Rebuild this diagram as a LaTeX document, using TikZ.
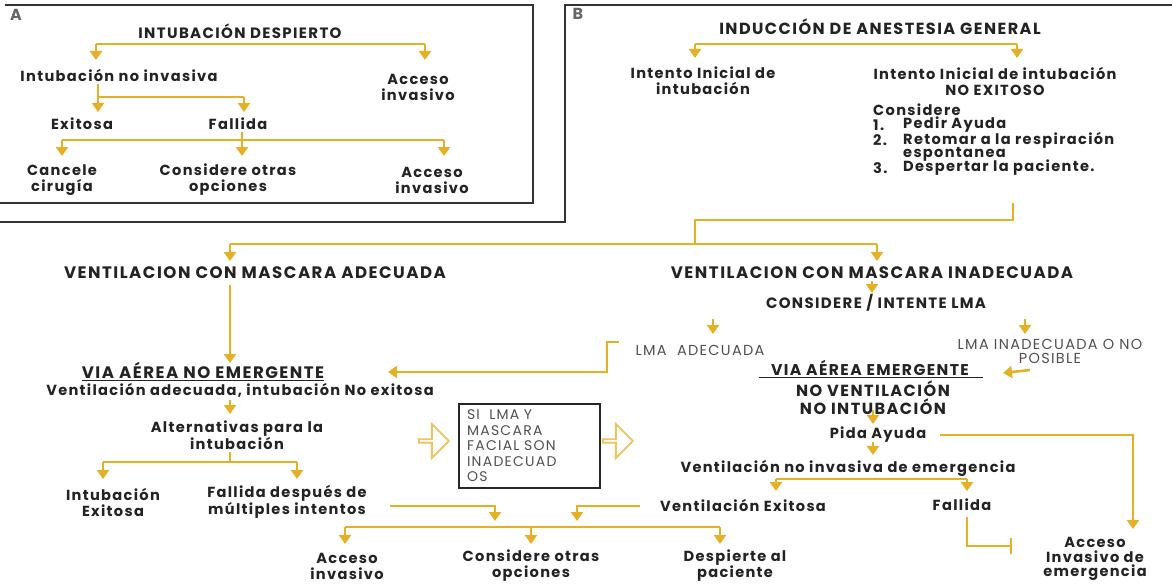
\documentclass[tikz,border=0pt]{standalone}
\usepackage{fontspec}
\setmainfont{Poppins}[LetterSpace=9]
\usetikzlibrary{arrows.meta,calc,shapes.arrows}
\definecolor{gold}{RGB}{230,176,36}
\definecolor{ink}{RGB}{35,35,35}
\definecolor{soft}{RGB}{80,80,80}
\tikzset{
  t/.style={font=\bfseries\fontsize{14.6}{16}\selectfont, text=ink, align=center, inner sep=0pt},
  T/.style={font=\bfseries\fontsize{16.6}{18}\selectfont, text=ink, align=center, inner sep=0pt},
  tl/.style={font=\fontsize{14.5}{14}\selectfont, text=soft, align=center, inner sep=0pt},
  con/.style={draw=gold, line width=2.6pt},
  arr/.style={draw=gold, line width=2.6pt, -{Triangle[width=12pt,length=9pt]}},
  frame/.style={draw=black!80, line width=2.4pt},
  blk/.style={single arrow, draw=gold!75, line width=1.8pt, fill=white, minimum width=34pt, minimum height=30pt, single arrow head extend=8pt, inner sep=0pt},
  ul/.style={draw=ink, line width=1pt}
}
\begin{document}
\begin{tikzpicture}[x=1pt,y=-1pt]
\useasboundingbox (0,0) rectangle (1172,586);
\fill[white] (0,0) rectangle (1172,586);
% frames
\coordinate (fa1) at (5,5); \coordinate (fa2) at (533,5); \coordinate (fa3) at (533,203); \coordinate (fa4) at (0,203);
\draw[frame] (fa1) -- (fa2) -- (fa3) -- (fa4);
\coordinate (fb1) at (0,222); \coordinate (fb2) at (565,222); \coordinate (fb3) at (565,5); \coordinate (fb4) at (1172,5);
\draw[frame] (fb1) -- (fb2) -- (fb3) -- (fb4);

% ---------- Panel A ----------
\node[font=\bfseries\fontsize{16}{16}\selectfont, text=black!60, inner sep=0pt] (labA) at (16,15) {A};
\node[T, font=\bfseries\fontsize{15}{18}\selectfont] (despierto) at (240,31) {INTUBACIÓN DESPIERTO};
\node[t] (noinv) at (119,75) {Intubación no invasiva};
\node[t] (accA1) at (418,87) {Acceso\\invasivo};
\node[t] (exitA) at (82,124) {Exitosa};
\node[t] (fallA) at (238,124) {Fallida};
\node[t] (cancel) at (62,180) {Cancele\\cirugía};
\node[t] (otrasA) at (228,180) {Considere otras\\opciones};
\node[t] (accA2) at (432,180) {Acceso\\invasivo};

\coordinate (a1) at (96,44); \coordinate (a2) at (425,44);
\coordinate (a1e) at (96,60); \coordinate (a2e) at (425,60);
\draw[con] (a1) -- (a2);
\draw[arr] (a1) -- (a1e);
\draw[arr] (a2) -- (a2e);

\coordinate (b0) at (98,84); \coordinate (b1) at (98,97); \coordinate (b2) at (244,97);
\coordinate (b1e) at (98,112); \coordinate (b2e) at (244,112);
\draw[con] (b0) -- (b1) -- (b2);
\draw[arr] (b1) -- (b1e);
\draw[arr] (b2) -- (b2e);

\coordinate (c0) at (242,132); \coordinate (c1) at (62,140); \coordinate (cm) at (242,140); \coordinate (c2) at (444,140);
\coordinate (c1e) at (62,156); \coordinate (cme) at (242,156); \coordinate (c2e) at (444,156);
\draw[con] (c0) -- (cm); \draw[con] (c1) -- (c2);
\draw[arr] (c1) -- (c1e); \draw[arr] (cm) -- (cme); \draw[arr] (c2) -- (c2e);

% ---------- Panel B ----------
\node[font=\bfseries\fontsize{16}{16}\selectfont, text=black!60, inner sep=0pt] (labB) at (578,14) {B};
\node[T, font=\bfseries\fontsize{16.1}{18}\selectfont] (induccion) at (880,27) {INDUCCIÓN DE ANESTESIA GENERAL};
\node[t] (inicial) at (703,81) {Intento Inicial de\\intubación};
\node[t] (noexito) at (995,81) {Intento Inicial de intubación\\NO EXITOSO};
\node[t, anchor=west] (cons0) at (873,110) {Considere};
\node[t, anchor=west] (n1) at (873,125) {1.};
\node[t, anchor=west] (i1) at (903,125) {Pedir Ayuda};
\node[t, anchor=west] (n2) at (873,140) {2.};
\node[t, anchor=west] (i2) at (903,140) {Retomar a la respiración};
\node[t, anchor=west] (i2b) at (903,154) {espontanea};
\node[t, anchor=west] (n3) at (873,168) {3.};
\node[t, anchor=west] (i3) at (903,168) {Despertar la paciente.};

\coordinate (d1) at (695,44); \coordinate (d2) at (1017,44);
\coordinate (d1e) at (695,58); \coordinate (d2e) at (1017,58);
\draw[con] (d1) -- (d2);
\draw[arr] (d1) -- (d1e); \draw[arr] (d2) -- (d2e);

\coordinate (e0) at (1013,203); \coordinate (e1) at (1013,220); \coordinate (e2) at (695,220); \coordinate (e3) at (695,244);
\draw[con] (e0) -- (e1) -- (e2) -- (e3);
\coordinate (f1) at (230,244); \coordinate (f2) at (877,244);
\coordinate (f1e) at (230,261); \coordinate (f2e) at (877,261);
\draw[con] (f1) -- (f2);
\draw[arr] (f1) -- (f1e); \draw[arr] (f2) -- (f2e);

\node[T] (vmaAd) at (255,273) {VENTILACION CON MASCARA ADECUADA};
\node[T] (vmaIn) at (872,273) {VENTILACION CON MASCARA INADECUADA};
\coordinate (g0) at (230,285); \coordinate (g1) at (230,363);
\draw[arr] (g0) -- (g1);
\coordinate (h0) at (872,281); \coordinate (h1) at (872,293);
\draw[arr] (h0) -- (h1);
\node[T, font=\bfseries\fontsize{15}{18}\selectfont] (consLMA) at (876,303) {CONSIDERE / INTENTE LMA};
\coordinate (k0) at (713,319); \coordinate (k1) at (713,334);
\coordinate (k2) at (1025,319); \coordinate (k3) at (1025,334);
\draw[arr] (k0) -- (k1); \draw[arr] (k2) -- (k3);

\node[tl] (lmaAd) at (700,350) {LMA\ \ ADECUADA};
\node[tl] (lmaIn) at (1050,351) {LMA INADECUADA O NO\\POSIBLE};
\coordinate (m0) at (619,342); \coordinate (m1) at (607,342); \coordinate (m2) at (607,372); \coordinate (m3) at (388,372);
\draw[arr] (m0) -- (m1) -- (m2) -- (m3);

\node[T] (viaNo) at (203,370) {VIA AÉREA NO EMERGENTE};
\draw[ul] ([yshift=-2pt]viaNo.south west) -- ([yshift=-2pt]viaNo.south east);
\node[t] (ventAd) at (240,390) {Ventilación adecuada, intubación No exitosa};
\coordinate (p0) at (230,400); \coordinate (p1) at (230,414);
\draw[arr] (p0) -- (p1);
\node[t] (altern) at (237,435) {Alternativas para la\\intubación};
\coordinate (q0) at (230,452); \coordinate (q1) at (103,462); \coordinate (qm) at (230,462); \coordinate (q2) at (297,462);
\coordinate (q1e) at (103,479); \coordinate (q2e) at (297,479);
\draw[con] (q0) -- (qm); \draw[con] (q1) -- (q2);
\draw[arr] (q1) -- (q1e); \draw[arr] (q2) -- (q2e);
\node[t] (intEx) at (113,502) {Intubación\\Exitosa};
\node[t] (fallMult) at (287,502) {Fallida después de\\múltiples intentos};

\coordinate (r0) at (390,506); \coordinate (r1) at (495,506); \coordinate (r1e) at (495,521);
\draw[arr] (r0) -- (r1) -- (r1e);
\coordinate (s0) at (640,506); \coordinate (s1) at (577,506); \coordinate (s1e) at (577,521);
\draw[arr] (s0) -- (s1) -- (s1e);
\coordinate (u1) at (345,527); \coordinate (um) at (531,527); \coordinate (u2) at (720,527);
\coordinate (u1e) at (345,544); \coordinate (ume) at (531,544); \coordinate (u2e) at (720,544);
\draw[con] (u1) -- (u2);
\draw[arr] (u1) -- (u1e); \draw[arr] (um) -- (ume); \draw[arr] (u2) -- (u2e);
\node[t] (accB) at (347,566) {Acceso\\invasivo};
\node[t] (otrasB) at (531,566) {Considere otras\\opciones};
\node[t] (despierte) at (735,566) {Despierte al\\paciente};

% box and block arrows
\node[draw=black!85, line width=2pt, anchor=north west, text width=125pt, minimum height=82pt, inner xsep=8pt, inner ysep=6pt, align=left, font=\fontsize{14}{15.5}\selectfont, text=soft] (siBox) at (458,403) {SI\ \ LMA Y\\MASCARA\\FACIAL SON\\INADECUAD\\OS};
\node[blk] (blkL) at (433,441) {};
\node[blk] (blkR) at (617,441) {};

\node[T, font=\bfseries\fontsize{15.6}{18}\selectfont] (viaEm) at (870,368) {VIA AÉREA EMERGENTE};
\draw[ul] ([xshift=-12pt,yshift=-2pt]viaEm.south west) -- ([xshift=14pt,yshift=-2pt]viaEm.south east);
\coordinate (v0) at (1030,370); \coordinate (v1) at (1003,373);
\draw[arr] (v0) -- (v1);
\node[T, font=\bfseries\fontsize{16.1}{18}\selectfont] (noVent) at (873,398) {NO VENTILACIÓN\\NO INTUBACIÓN};
\coordinate (w0) at (873,410); \coordinate (w1) at (873,424);
\draw[arr] (w0) -- (w1);
\node[t] (pida) at (878,435) {Pida Ayuda};
\coordinate (x0) at (940,435); \coordinate (x1) at (1133,435); \coordinate (x2) at (1133,529);
\draw[arr] (x0) -- (x1) -- (x2);
\coordinate (y0) at (873,442); \coordinate (y1) at (873,455);
\draw[arr] (y0) -- (y1);
\node[t] (vnie) at (848,468) {Ventilación no invasiva de emergencia};
\coordinate (z1) at (776,479); \coordinate (z2) at (967,479);
\coordinate (z1e) at (776,491); \coordinate (z2e) at (967,491);
\draw[con] (z1) -- (z2);
\draw[arr] (z1) -- (z1e); \draw[arr] (z2) -- (z2e);
\node[t] (ventEx) at (743,505) {Ventilación Exitosa};
\node[t] (fallB) at (962,505) {Fallida};
\coordinate (o0) at (967,517); \coordinate (o1) at (967,546); \coordinate (o2) at (1012,546);
\draw[con, -{Bar[width=16pt,line width=2pt]}] (o0) -- (o1) -- (o2);
\node[t, font=\bfseries\fontsize{14.6}{14.5}\selectfont] (accEm) at (1095,559) {Acceso\\Invasivo de\\emergencia};
\end{tikzpicture}
\end{document}
